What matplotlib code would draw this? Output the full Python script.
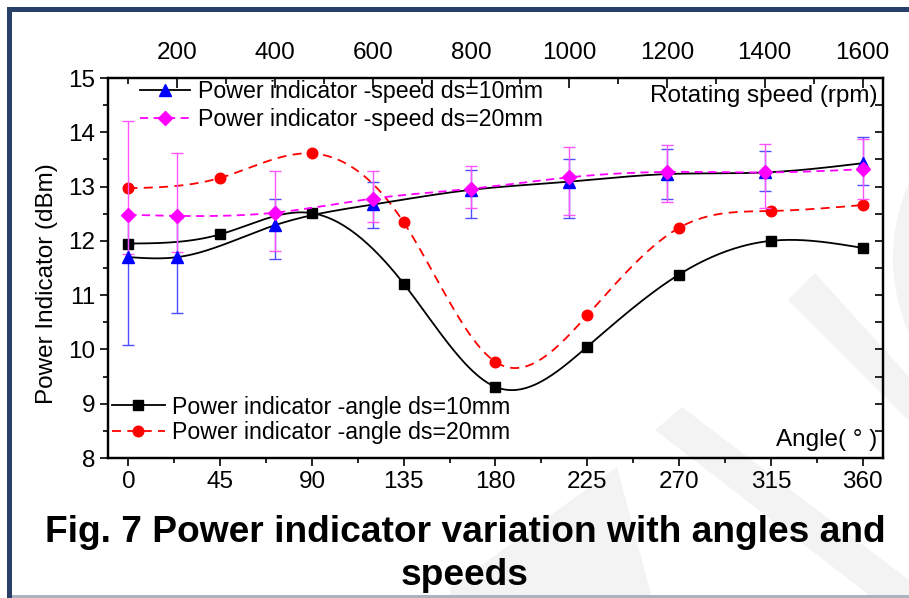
import numpy as np
import matplotlib
matplotlib.use("Agg")
import matplotlib.pyplot as plt
from matplotlib.patches import Polygon, Rectangle, Circle
from matplotlib.ticker import MultipleLocator
from matplotlib.legend_handler import HandlerTuple

plt.rcParams['font.family'] = ['Liberation Sans', 'DejaVu Sans']

# ---- data ----
angle = [0, 45, 90, 135, 180, 225, 270, 315, 360]
angle_ds10 = [11.95, 12.12, 12.51, 11.21, 9.31, 10.05, 11.38, 12.00, 11.87]
angle_ds20 = [12.97, 13.16, 13.61, 12.34, 9.77, 10.63, 12.24, 12.55, 12.66]

speed = [100, 200, 400, 600, 800, 1000, 1200, 1400, 1600]
speed_ds10 = [11.70, 11.70, 12.29, 12.67, 12.94, 13.09, 13.23, 13.26, 13.43]
speed_ds10_lo = [1.62, 1.02, 0.62, 0.44, 0.51, 0.66, 0.45, 0.34, 0.40]
speed_ds10_hi = [0.75, 0.72, 0.48, 0.41, 0.37, 0.41, 0.46, 0.40, 0.49]
speed_ds20 = [12.48, 12.46, 12.52, 12.78, 12.96, 13.17, 13.27, 13.26, 13.32]
speed_ds20_lo = [0.73, 0.66, 0.70, 0.43, 0.36, 0.69, 0.56, 0.66, 0.55]
speed_ds20_hi = [1.72, 1.15, 0.76, 0.51, 0.41, 0.55, 0.50, 0.52, 0.56]

W, H = 909, 598


def px(x, y):
    """pixel position (from top left) -> figure fraction"""
    return x / W, 1 - y / H


def spline(x, y, n=400):
    """natural cubic spline through the points, used to draw the smooth line"""
    x = np.asarray(x, float)
    y = np.asarray(y, float)
    h = np.diff(x)
    m = len(x)
    A = np.zeros((m, m))
    r = np.zeros(m)
    A[0, 0] = A[-1, -1] = 1
    for i in range(1, m - 1):
        A[i, i - 1] = h[i - 1]
        A[i, i] = 2 * (h[i - 1] + h[i])
        A[i, i + 1] = h[i]
        r[i] = 3 * ((y[i + 1] - y[i]) / h[i] - (y[i] - y[i - 1]) / h[i - 1])
    c = np.linalg.solve(A, r)
    b = np.diff(y) / h - h * (2 * c[:-1] + c[1:]) / 3
    d = np.diff(c) / (3 * h)
    xs = np.linspace(x[0], x[-1], n)
    k = np.clip(np.searchsorted(x, xs, side='right') - 1, 0, m - 2)
    t = xs - x[k]
    return xs, y[k] + b[k] * t + c[k] * t ** 2 + d[k] * t ** 3


fig = plt.figure(figsize=(W / 100, H / 100), dpi=100)

# ---- page background: frame and faint watermark ----
bg = fig.add_axes([0, 0, 1, 1])
bg.set_xlim(0, W)
bg.set_ylim(H, 0)
bg.axis('off')
bg.set_zorder(0)
wm = '#f3f3f3'
bg.add_patch(Polygon([(788, 300), (815, 273), (909, 377), (909, 421)], color=wm, lw=0))
bg.add_patch(Polygon([(655, 430), (682, 407), (909, 580), (909, 598), (873, 598)], color=wm, lw=0))
bg.add_patch(Polygon([(450, 598), (450, 588), (617, 467), (652, 598)], color=wm, lw=0))
bg.add_patch(Circle((1077, 258), 184, color=wm, lw=0))
navy = '#273f69'
bg.add_patch(Rectangle((7, 7), W, 5, color=navy, lw=0))
bg.add_patch(Rectangle((7, 7), 5, H, color=navy, lw=0))
bg.add_patch(Rectangle((12, 595), W, 3, color='#aab3bf', lw=0))

# ---- main axes (angle, bottom) ----
l, b = px(108, 458)
ax = fig.add_axes([l, b, 775 / W, 380 / H])
ax.set_zorder(2)
ax.patch.set_visible(False)
ax.set_xlim(-10, 370)
ax.set_ylim(8, 15)

xs, ys = spline(angle, angle_ds10)
l1, = ax.plot(xs, ys, color='black', lw=1.3)
m1, = ax.plot(angle, angle_ds10, 's', color='black', ms=6.8, ls='none')
xs, ys = spline(angle, angle_ds20)
l2, = ax.plot(xs, ys, color='#ff0000', lw=1.3, dashes=(5, 3.5))
m2, = ax.plot(angle, angle_ds20, 'o', color='#ff0000', ms=7.6, ls='none')

# ---- twin axes (rotating speed, top) ----
ax2 = ax.twiny()
ax2.set_zorder(3)
ax2.set_xlim(100 - 10 * 1500 / 360, 100 + 370 * 1500 / 360)

ax2.errorbar(speed, speed_ds10, yerr=[speed_ds10_lo, speed_ds10_hi], fmt='none',
             ecolor='#4d4dff', elinewidth=1.0, capsize=4.2, capthick=1.0)
ax2.errorbar(speed, speed_ds20, yerr=[speed_ds20_lo, speed_ds20_hi], fmt='none',
             ecolor='#ff55ff', elinewidth=1.0, capsize=4.2, capthick=1.0)
xs, ys = spline(speed, speed_ds10)
l3, = ax2.plot(xs, ys, color='black', lw=1.3)
m3, = ax2.plot(speed, speed_ds10, '^', color='#0000ff', ms=9.3, ls='none')
xs, ys = spline(speed, speed_ds20)
l4, = ax2.plot(xs, ys, color='#ff00ff', lw=1.3, dashes=(4.5, 3))
m4, = ax2.plot(speed, speed_ds20, 'D', color='#ff00ff', ms=6.8, ls='none')

# ---- ticks and spines ----
for a in (ax, ax2):
    for s in a.spines.values():
        s.set_linewidth(1.6)
ax.xaxis.set_major_locator(MultipleLocator(45))
ax.xaxis.set_minor_locator(MultipleLocator(22.5))
ax.yaxis.set_major_locator(MultipleLocator(1))
ax.yaxis.set_minor_locator(MultipleLocator(0.5))
ax.yaxis.tick_left()
ax.tick_params(which='both', direction='out', width=1.2, labelsize=17.5)
ax.tick_params(which='major', length=6)
ax.tick_params(which='minor', length=3.8)
ax.tick_params(axis='x', pad=3)
ax.tick_params(axis='y', pad=3)

ax2.xaxis.set_major_locator(MultipleLocator(200))
ax2.xaxis.set_minor_locator(MultipleLocator(100))
ax2.tick_params(axis='x', which='both', direction='in', width=1.2, labelsize=17.5, pad=10)
ax2.tick_params(axis='x', which='major', length=7)
ax2.tick_params(axis='x', which='minor', length=4)
ax2.yaxis.set_visible(True)
ax2.yaxis.tick_right()
ax2.tick_params(axis='y', which='both', direction='in', length=5.5, width=1.2,
                labelright=False, left=False)

# ---- labels ----
fig.text(*px(47, 284), 'Power Indicator (dBm)', rotation=90, ha='center', va='center',
         fontsize=17.5)
fig.text(*px(877, 102), 'Rotating speed (rpm)', ha='right', va='baseline', fontsize=17.5)
fig.text(*px(877, 446), 'Angle( \u00b0 )', ha='right', va='baseline', fontsize=17.5)

tup = {tuple: HandlerTuple(ndivide=1)}
leg1 = ax2.legend([(l3, m3), (l4, m4)],
                  ['Power indicator -speed ds=10mm', 'Power indicator -speed ds=20mm'],
                  handler_map=tup,
                  loc='center left', bbox_to_anchor=px(140, 105.5), bbox_transform=fig.transFigure,
                  frameon=False, fontsize=16.7, borderpad=0, borderaxespad=0,
                  handlelength=2.15, handletextpad=0.34, labelspacing=0.2)
ax2.add_artist(leg1)
ax2.legend([(l1, m1), (l2, m2)],
           ['Power indicator -angle ds=10mm', 'Power indicator -angle ds=20mm'],
           handler_map=tup,
           loc='center left', bbox_to_anchor=px(112, 420), bbox_transform=fig.transFigure,
           frameon=False, fontsize=16.7, borderpad=0, borderaxespad=0,
           handlelength=2.28, handletextpad=0.3, labelspacing=0.12)

# ---- caption ----
fig.text(*px(465, 542), 'Fig. 7 Power indicator variation with angles and',
         ha='center', va='baseline', fontsize=26.7, fontweight='bold')
fig.text(*px(465, 585), 'speeds', ha='center', va='baseline', fontsize=26.7,
         fontweight='bold')

fig.savefig('out.png', dpi=100)
